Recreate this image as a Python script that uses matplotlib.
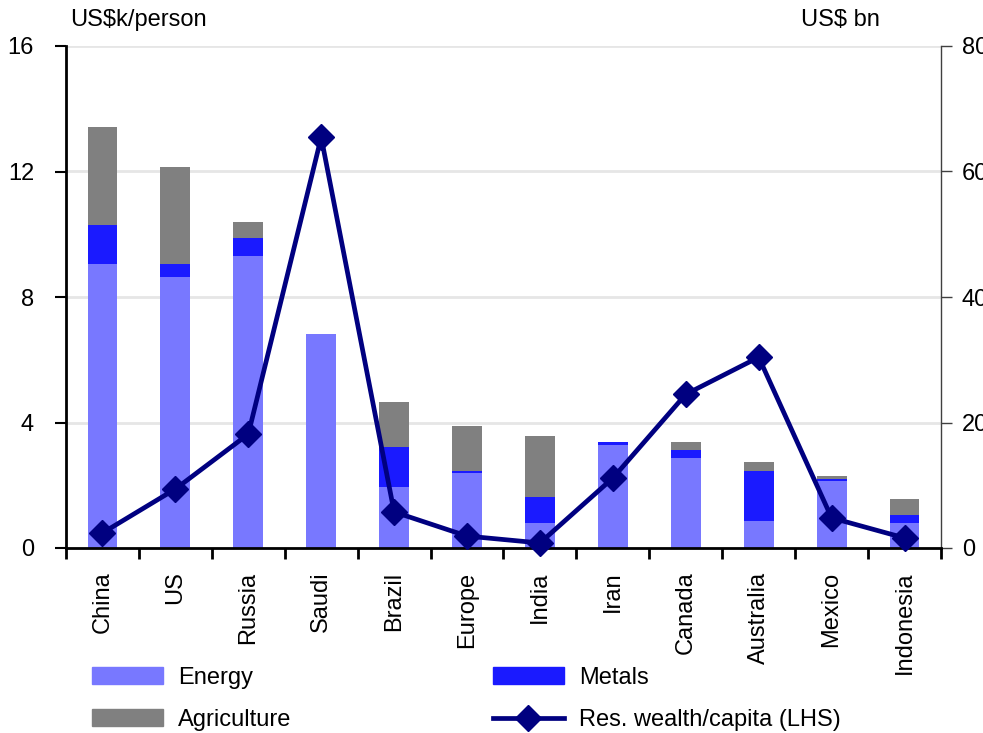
import matplotlib
matplotlib.use("Agg")
import matplotlib.pyplot as plt
import numpy as np
from matplotlib.patches import Patch
from matplotlib.lines import Line2D

plt.rcParams['font.family'] = ['Liberation Sans', 'DejaVu Sans']

categories = ['China', 'US', 'Russia', 'Saudi', 'Brazil', 'Europe', 'India',
              'Iran', 'Canada', 'Australia', 'Mexico', 'Indonesia']
energy = [453, 432, 465, 341, 97, 120, 40, 164, 143, 43, 107, 40]
metals = [62, 21, 29, 0, 64, 3, 41, 5, 13, 80, 3, 13]
agriculture = [156, 154, 26, 0, 72, 71, 98, 0, 13, 14, 5, 25]
wealth_per_capita = [0.48, 1.88, 3.63, 13.09, 1.15, 0.38, 0.16, 2.23, 4.9, 6.08, 0.96, 0.32]

left_ticks = [0, 4, 8, 12, 16]
right_ticks = [0, 200, 400, 600, 800]

c_energy = '#7878FF'
c_metals = '#1A1AFF'
c_agri = '#808080'
c_line = '#000080'
FS = 17

fig = plt.figure(figsize=(9.83, 7.33), dpi=100)
ax = fig.add_axes([66/983, 1-548/733, (941-66)/983, (548-46)/733])
ax2 = ax.twinx()
ax.set_zorder(2)
ax2.set_zorder(1)
ax.patch.set_visible(False)

x = np.arange(len(categories))
e = np.array(energy); m = np.array(metals); a = np.array(agriculture)
bw = 0.41
ax2.bar(x, e, bw, color=c_energy, zorder=2)
ax2.bar(x, m, bw, bottom=e, color=c_metals, zorder=2)
ax2.bar(x, a, bw, bottom=e+m, color=c_agri, zorder=2)
ax2.set_ylim(0, 800)
ax2.set_yticks(right_ticks)
ax2.yaxis.grid(True, color='#e6e6e6', lw=2)
ax2.set_axisbelow(True)

ax.plot(x, wealth_per_capita, color=c_line, lw=3.4, marker='D', ms=13.5,
        mfc=c_line, mec=c_line, clip_on=False, zorder=5)
ax.set_ylim(0, 16)
ax.set_yticks(left_ticks)
ax.set_xlim(-0.5, len(categories)-0.5)

ax.set_xticks(x, categories, rotation=90, fontsize=FS)
ax.tick_params(axis='x', which='major', length=0, pad=17)
ax.set_xticks(np.arange(-0.5, len(categories)), minor=True)
ax.tick_params(axis='x', which='minor', length=8, width=2, direction='out', color='black')

ax.tick_params(axis='y', labelsize=FS, length=8, width=1.5, direction='out', pad=15)
ax2.tick_params(axis='y', labelsize=FS, length=8, width=1, direction='out', color='#404040', pad=7)

for s in ['top', 'right']:
    ax.spines[s].set_visible(False)
for s in ['top', 'left', 'bottom']:
    ax2.spines[s].set_visible(False)
ax.spines['left'].set_linewidth(2)
ax.spines['bottom'].set_linewidth(2)
ax2.spines['right'].set_linewidth(1)
ax2.spines['right'].set_color('#404040')

fig.text(70/983, 1-20/733, 'US$k/person', fontsize=FS, ha='left', va='center')
fig.text(880/983, 1-20/733, 'US$ bn', fontsize=FS, ha='right', va='center')

h_energy = Patch(color=c_energy, label='Energy')
h_agri = Patch(color=c_agri, label='Agriculture')
h_metals = Patch(color=c_metals, label='Metals')
h_line = Line2D([], [], color=c_line, lw=3.4, marker='D', ms=13.5, label='Res. wealth/capita (LHS)')

common = dict(frameon=False, fontsize=FS, handlelength=3.0, handleheight=0.75,
              handletextpad=0.65, labelspacing=0.85, borderpad=0, borderaxespad=0,
              loc='upper left')
leg1 = fig.legend(handles=[h_energy, h_agri], bbox_to_anchor=(92/983, 1-667/733), **common)
leg2 = fig.legend(handles=[h_metals, h_line], bbox_to_anchor=(493/983, 1-667/733), **common)

fig.savefig('out.png', dpi=100)
